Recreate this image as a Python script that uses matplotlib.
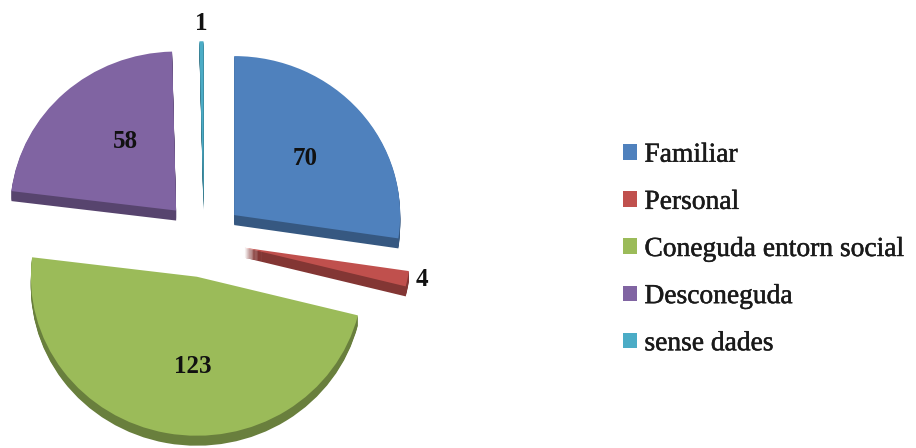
import numpy as np
import matplotlib
matplotlib.use("Agg")
import matplotlib.pyplot as plt
import matplotlib.colors as mc
import matplotlib.patheffects as pe

categories = ["Familiar", "Personal", "Coneguda entorn social", "Desconeguda", "sense dades"]
values = [70, 4, 123, 58, 1]
colors = ["#4F81BD", "#C0504D", "#9BBB59", "#8064A2", "#4BACC6"]

W, H = 916, 448
CX, CY, RX, RY = 204, 240, 166, 159
explode = [0.24, 0.25, 0.235, 0.25, 0.25]
depth_px = 10
label_px = [(305, 158), (422, 279), (193, 366), (125, 141), (201, 23)]

plt.rcParams['font.family'] = ['Liberation Serif', 'DejaVu Serif']
fig = plt.figure(figsize=(W / 100, H / 100), dpi=100)
ax = fig.add_axes([0, 0, 1, 1])


def to_data(px, py):
    return (px - CX) / RX, (CY - py) / RY


def dark(c, f=0.68):
    return tuple(np.array(mc.to_rgb(c)) * f)


# extruded side of the slices
for d in np.linspace(depth_px, 1, 10):
    ax.pie(values, colors=[dark(c) for c in colors], explode=explode, startangle=90,
           counterclock=False, center=(0, -d / RY), normalize=True,
           wedgeprops=dict(linewidth=0.3, edgecolor='none'))

# top faces
wedges, texts = ax.pie(values, colors=colors, explode=explode, startangle=90,
                       counterclock=False, normalize=True,
                       labels=[str(v) for v in values],
                       textprops=dict(fontsize=18, fontweight='bold', color='#111111',
                                      ha='center', va='center'),
                       wedgeprops=dict(linewidth=0))
for t, (px, py) in zip(texts, label_px):
    t.set_position(to_data(px, py))
    t.set_ha('center')
    t.set_va('center')

ax.set_aspect('auto')
ax.set_xlim(to_data(0, 0)[0], to_data(W, 0)[0])
ax.set_ylim(to_data(0, H)[1], to_data(0, 0)[1])
ax.axis('off')

leg = ax.legend(wedges, categories, loc='center left',
                bbox_to_anchor=(623 / W, 1 - 249.5 / H), bbox_transform=fig.transFigure,
                frameon=False, fontsize=19.8, handlelength=0.5, handleheight=0.5,
                handletextpad=0.28, labelspacing=0.805, borderpad=0, borderaxespad=0)
for t in leg.get_texts():
    t.set_color('#1a1a1a')
    t.set_path_effects([pe.withStroke(linewidth=0.35, foreground='#1a1a1a')])

fig.savefig("out.png", dpi=100)
